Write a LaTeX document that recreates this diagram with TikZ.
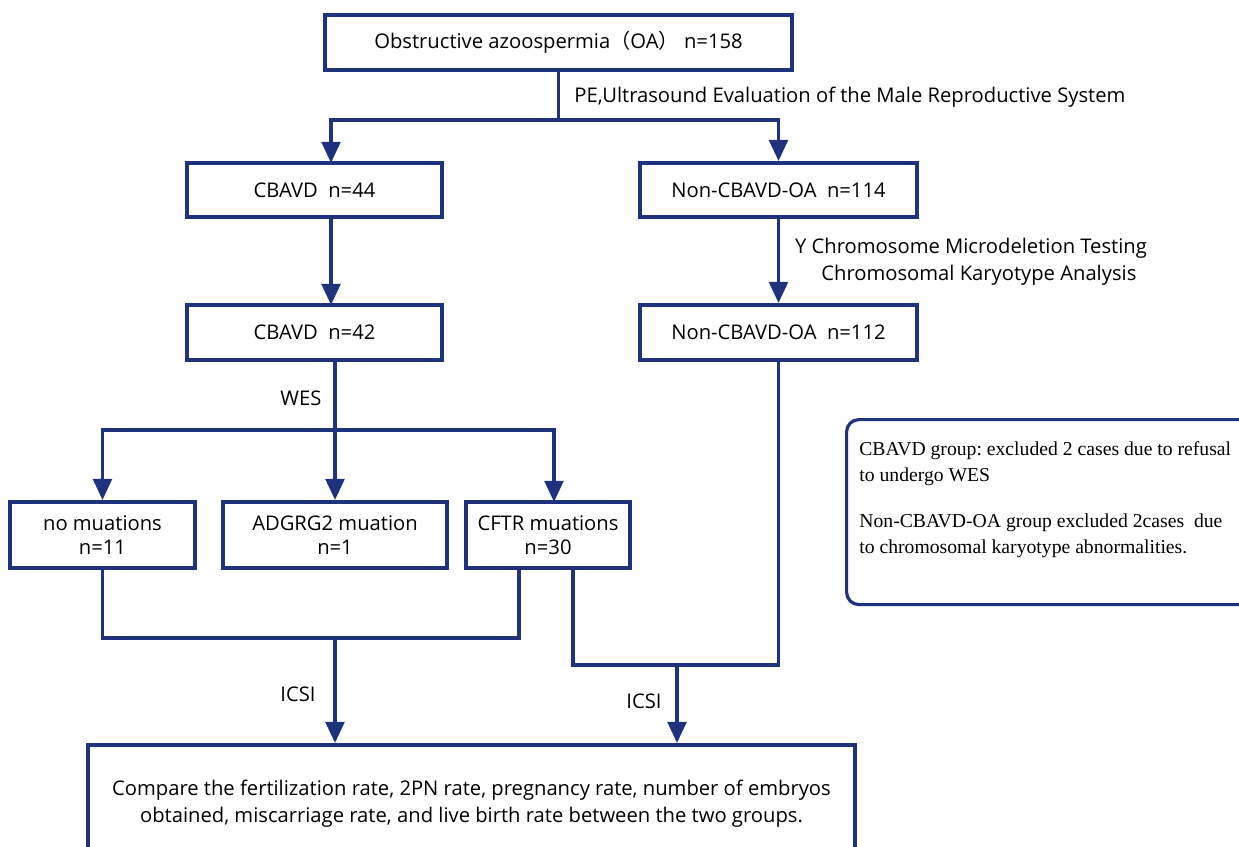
\documentclass[tikz,border=0pt]{standalone}
\usepackage{fontspec}
\setmainfont{Open Sans}
\newfontfamily\cjk{Noto Sans CJK SC}
\newfontfamily\tnr{Liberation Serif}
\usetikzlibrary{arrows.meta}
\definecolor{navy}{RGB}{30,50,125}
\frenchspacing
\begin{document}
\begin{tikzpicture}[x=0.02cm,y=-0.02cm,
 box/.style={draw=navy,line width=2.2pt,fill=white,font=\fontsize{11.5}{14}\selectfont,align=center,inner sep=0pt},
 arr/.style={draw=navy,line width=2.2pt,-{Triangle[width=10.5pt,length=12pt]}},
 ln/.style={draw=navy,line width=2.2pt},
 lbl/.style={font=\fontsize{11.5}{15.3}\selectfont,align=center,inner sep=0pt},
 notebox/.style={draw=navy,line width=1.8pt,rounded corners=7pt,inner sep=0pt},
 notetext/.style={font=\tnr\fontsize{11.2}{15}\selectfont,align=left,inner sep=0pt},
 wh/.style 2 args={minimum width=#1*0.02cm,minimum height=#2*0.02cm}]
\useasboundingbox (0,0) rectangle (1239,847);
\clip (0,0) rectangle (1239,847);
\fill[white] (0,0) rectangle (1239,847);

% boxes
\node[box,wh={467}{55}] (oa) at (558.5,42.5) {Obstructive azoospermia{\cjk （}OA{\cjk ）} n=158};
\node[box,wh={255}{54}] (c44) at (314.5,190) {CBAVD\ \ n=44};
\node[box,wh={277}{54}] (n114) at (778.5,190) {Non-CBAVD-OA\ \ n=114};
\node[box,wh={255}{55}] (c42) at (314.5,332.5) {CBAVD\ \ n=42};
\node[box,wh={277}{55}] (n112) at (778.5,332.5) {Non-CBAVD-OA\ \ n=112};
\node[box,wh={185}{66}] (nm) at (102.5,535) {no muations\\n=11};
\node[box,wh={224}{66}] (adg) at (335,535) {ADGRG2 muation\\n=1};
\node[box,wh={164}{66}] (cftr) at (548,535) {CFTR muations\\n=30};
\node[box,wh={767}{118},font=\fontsize{11.5}{15.5}\selectfont] (cmp) at (471.5,804) {Compare the fertilization rate, 2PN rate, pregnancy rate, number of embryos\\obtained, miscarriage rate, and live birth rate between the two groups.};

% note
\node[notebox,wh={410}{185},anchor=north west] (note) at (845,418) {};
\node[notetext,anchor=north west] (nt) at (859,441) {CBAVD group: excluded 2 cases due to refusal\\to undergo WES\\[11pt]Non-CBAVD-OA group excluded 2cases\ \ due\\to chromosomal karyotype abnormalities.};

% labels
\node[lbl,anchor=west] (pe) at (574,97) {PE,Ultrasound Evaluation of the Male Reproductive System};
\node[lbl] (ych) at (971,262) {Y Chromosome Microdeletion Testing\\\ \ \ Chromosomal Karyotype Analysis};
\node[lbl] (wes) at (301,398) {WES};
\node[lbl] (icsi1) at (298,694) {ICSI};
\node[lbl] (icsi2) at (644,701) {ICSI};

% coordinates
\coordinate (t1) at (558.5,120);
\coordinate (c44in) at (331,163);
\coordinate (c44out) at (331,217);
\coordinate (c42in) at (331,305);
\coordinate (w0) at (335,360);
\coordinate (w) at (335,430);
\coordinate (cftrin) at (554,502);
\coordinate (b1) at (519,638);
\coordinate (b1m) at (335,638);
\coordinate (b2l) at (573,568);
\coordinate (b2r) at (778.5,665);
\coordinate (b2m) at (677,665);

% connectors
\draw[arr] (oa.south) -- (t1) -| (c44in);
\draw[arr] (t1) -| (n114.north);
\draw[arr] (c44out) -- (c42in);
\draw[arr] (n114.south) -- (n112.north);
\draw[arr] (w0) -- (w) -| (nm.north);
\draw[arr] (w) -| (cftrin);
\draw[arr] (w) -- (adg.north);
\draw[ln] (nm.south) |- (b1) -- (b1 |- cftr.south);
\draw[arr] (b1m) -- (b1m |- cmp.north);
\draw[ln] (b2l) |- (b2r) -- (n112.south);
\draw[arr] (b2m) -- (b2m |- cmp.north);
\end{tikzpicture}
\end{document}
